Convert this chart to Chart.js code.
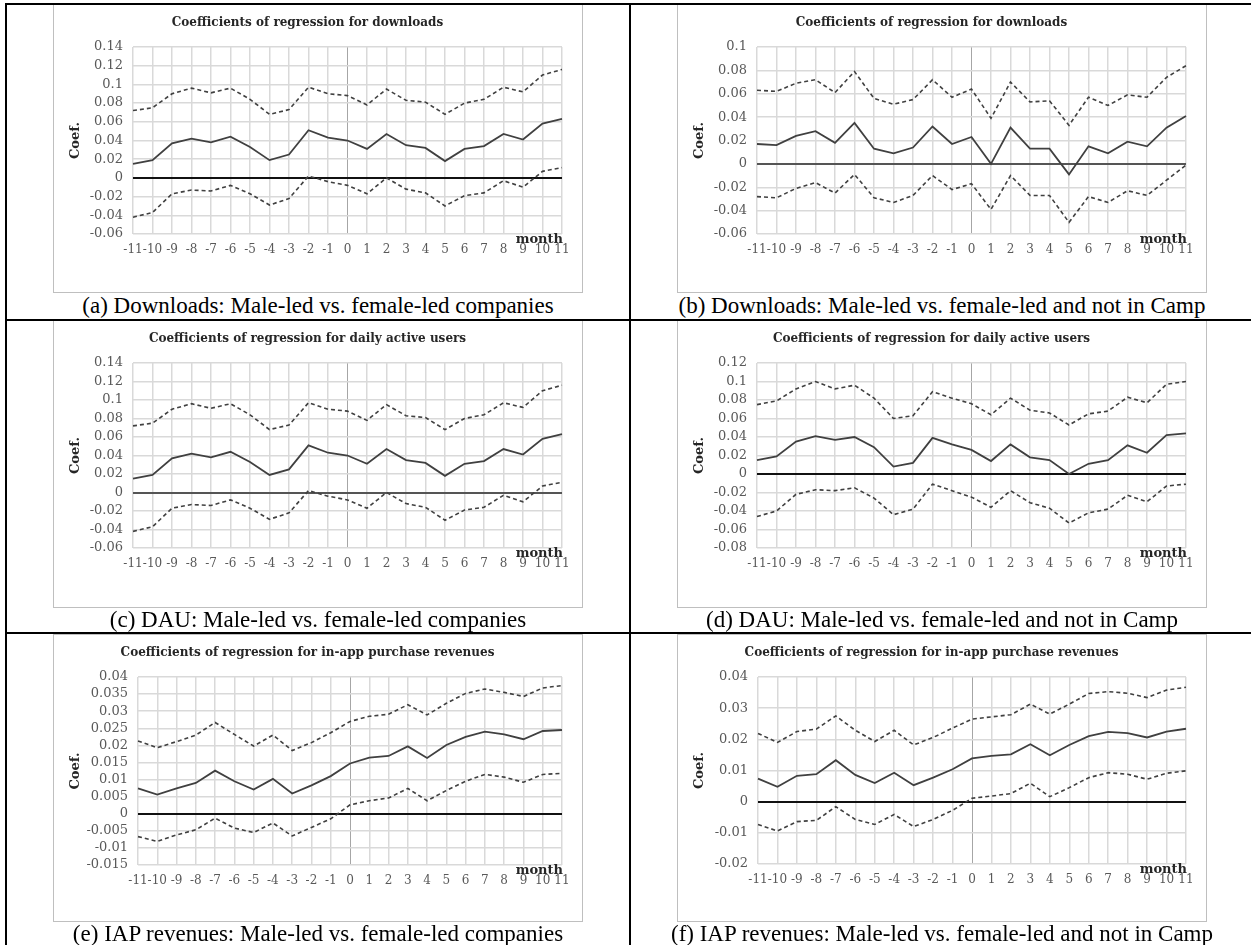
<!DOCTYPE html>
<html>
<head>
<meta charset="utf-8">
<script src="https://cdn.jsdelivr.net/npm/chart.js@4.4.1/dist/chart.umd.min.js"></script>
<style>
  body { margin: 0; background: #fff; }
  #page { position: relative; width: 1251px; height: 945px; overflow: hidden; background: #fff; }
  .rule { position: absolute; background: #000; z-index: 5; }
  .frame { position: absolute; width: 528px; border: 1px solid #bfbfbf; background: #fff; }
  .frame canvas { position: absolute; left: -1px; top: -1px; }
  .cap {
    position: absolute; width: 630px; text-align: center; white-space: nowrap;
    font-family: "Liberation Serif", "Times New Roman", serif; font-size: 23px;
    line-height: 26px; color: #000;
  }
</style>
</head>
<body>
<div id="page"></div>
<script>
const months = ['-11', '-10', '-9', '-8', '-7', '-6', '-5', '-4', '-3', '-2', '-1', '0',
  '1', '2', '3', '4', '5', '6', '7', '8', '9', '10', '11'];

// (a) downloads, male-led vs female-led
const dlCoef = [0.015, 0.019, 0.037, 0.042, 0.038, 0.044, 0.033, 0.019, 0.025, 0.051, 0.043, 0.040,
  0.031, 0.047, 0.035, 0.032, 0.018, 0.031, 0.034, 0.047, 0.041, 0.058, 0.063];
const dlUpper = [0.072, 0.075, 0.090, 0.096, 0.091, 0.096, 0.084, 0.068, 0.073, 0.097, 0.090, 0.088,
  0.078, 0.095, 0.083, 0.081, 0.068, 0.080, 0.084, 0.097, 0.092, 0.110, 0.116];
const dlLower = [-0.042, -0.037, -0.017, -0.013, -0.014, -0.008, -0.017, -0.029, -0.022, 0.002, -0.004, -0.008,
  -0.017, 0.000, -0.012, -0.016, -0.030, -0.019, -0.016, -0.003, -0.010, 0.007, 0.011];

// (b) downloads, not in Camp
const dlCampCoef = [0.017, 0.016, 0.024, 0.028, 0.018, 0.035, 0.013, 0.009, 0.014, 0.032, 0.017, 0.023,
  0.000, 0.031, 0.013, 0.013, -0.009, 0.015, 0.009, 0.019, 0.015, 0.031, 0.041];
const dlCampUpper = [0.063, 0.062, 0.069, 0.072, 0.061, 0.079, 0.056, 0.051, 0.055, 0.072, 0.057, 0.064,
  0.039, 0.070, 0.053, 0.054, 0.033, 0.057, 0.050, 0.059, 0.057, 0.074, 0.084];
const dlCampLower = [-0.028, -0.029, -0.021, -0.016, -0.025, -0.009, -0.029, -0.033, -0.027, -0.010, -0.022, -0.017,
  -0.039, -0.010, -0.027, -0.027, -0.050, -0.028, -0.033, -0.023, -0.027, -0.014, -0.001];

// (c) daily active users
const dauCoef = [0.015, 0.019, 0.037, 0.042, 0.038, 0.044, 0.033, 0.019, 0.025, 0.051, 0.043, 0.040,
  0.031, 0.047, 0.035, 0.032, 0.018, 0.031, 0.034, 0.047, 0.041, 0.058, 0.063];
const dauUpper = [0.072, 0.075, 0.090, 0.096, 0.091, 0.096, 0.084, 0.068, 0.073, 0.097, 0.090, 0.088,
  0.078, 0.095, 0.083, 0.081, 0.068, 0.080, 0.084, 0.097, 0.092, 0.110, 0.116];
const dauLower = [-0.042, -0.037, -0.017, -0.013, -0.014, -0.008, -0.017, -0.029, -0.022, 0.002, -0.004, -0.008,
  -0.017, 0.000, -0.012, -0.016, -0.030, -0.019, -0.016, -0.003, -0.010, 0.007, 0.011];

// (d) DAU, not in Camp
const dauCampCoef = [0.015, 0.019, 0.035, 0.041, 0.037, 0.040, 0.029, 0.008, 0.012, 0.039, 0.032, 0.026,
  0.014, 0.032, 0.018, 0.015, 0.000, 0.011, 0.015, 0.031, 0.023, 0.042, 0.044];
const dauCampUpper = [0.075, 0.079, 0.092, 0.100, 0.092, 0.096, 0.082, 0.060, 0.063, 0.089, 0.082, 0.076,
  0.064, 0.082, 0.069, 0.066, 0.053, 0.065, 0.068, 0.083, 0.077, 0.097, 0.100];
const dauCampLower = [-0.046, -0.040, -0.022, -0.017, -0.018, -0.015, -0.026, -0.044, -0.038, -0.011, -0.018, -0.025,
  -0.036, -0.018, -0.031, -0.037, -0.053, -0.042, -0.038, -0.023, -0.030, -0.013, -0.011];

// (e) in-app purchase revenues
const iapCoef = [0.0074, 0.0056, 0.0074, 0.0090, 0.0126, 0.0095, 0.0071, 0.0102, 0.0059, 0.0083, 0.0110, 0.0147,
  0.0164, 0.0169, 0.0197, 0.0163, 0.0201, 0.0225, 0.0240, 0.0232, 0.0218, 0.0242, 0.0245];
const iapUpper = [0.0213, 0.0193, 0.0211, 0.0230, 0.0267, 0.0232, 0.0198, 0.0230, 0.0185, 0.0208, 0.0237, 0.0270,
  0.0285, 0.0291, 0.0319, 0.0289, 0.0323, 0.0352, 0.0365, 0.0355, 0.0343, 0.0368, 0.0375];
const iapLower = [-0.0067, -0.0081, -0.0062, -0.0047, -0.0013, -0.0042, -0.0055, -0.0027, -0.0065, -0.0040, -0.0015, 0.0026,
  0.0038, 0.0046, 0.0074, 0.0038, 0.0068, 0.0095, 0.0115, 0.0107, 0.0092, 0.0115, 0.0118];

// (f) IAP revenues, not in Camp
const iapCampCoef = [0.0074, 0.0048, 0.0083, 0.0088, 0.0133, 0.0086, 0.0060, 0.0093, 0.0053, 0.0077, 0.0104, 0.0139,
  0.0147, 0.0152, 0.0184, 0.0149, 0.0182, 0.0210, 0.0224, 0.0220, 0.0206, 0.0225, 0.0234];
const iapCampUpper = [0.0219, 0.0190, 0.0225, 0.0233, 0.0275, 0.0229, 0.0193, 0.0229, 0.0182, 0.0206, 0.0236, 0.0265,
  0.0272, 0.0279, 0.0313, 0.0281, 0.0313, 0.0347, 0.0353, 0.0348, 0.0334, 0.0358, 0.0367];
const iapCampLower = [-0.0073, -0.0094, -0.0064, -0.0060, -0.0016, -0.0057, -0.0073, -0.0041, -0.0080, -0.0057, -0.0028, 0.0011,
  0.0018, 0.0026, 0.0059, 0.0016, 0.0045, 0.0077, 0.0093, 0.0088, 0.0072, 0.0091, 0.0099];

const titleDl = 'Coefficients of regression for downloads';
const titleDau = 'Coefficients of regression for daily active users';
const titleIap = 'Coefficients of regression for in-app purchase revenues';

const panels = [
  { series: [dlCoef, dlUpper, dlLower], title: titleDl, min: -0.06, max: 0.14, step: 0.02,
    caption: '(a) Downloads: Male-led vs. female-led companies',
    left: 53, top: 4, height: 289, yWidth: 80, xHeight: 59, capY: 293, zero: '#111' },
  { series: [dlCampCoef, dlCampUpper, dlCampLower], title: titleDl, min: -0.06, max: 0.1, step: 0.02,
    caption: '(b) Downloads: Male-led vs. female-led and not in Camp',
    left: 677, top: 4, height: 289, yWidth: 80, xHeight: 59, capY: 293, zero: '#555' },
  { series: [dauCoef, dauUpper, dauLower], title: titleDau, min: -0.06, max: 0.14, step: 0.02,
    caption: '(c) DAU: Male-led vs. female-led companies',
    left: 53, top: 320, height: 288, yWidth: 80, xHeight: 60, capY: 607, zero: '#555' },
  { series: [dauCampCoef, dauCampUpper, dauCampLower], title: titleDau, min: -0.08, max: 0.12, step: 0.02,
    caption: '(d) DAU: Male-led vs. female-led and not in Camp',
    left: 677, top: 320, height: 288, yWidth: 80, xHeight: 60, capY: 607, zero: '#111' },
  { series: [iapCoef, iapUpper, iapLower], title: titleIap, min: -0.015, max: 0.04, step: 0.005,
    caption: '(e) IAP revenues: Male-led vs. female-led companies',
    left: 53, top: 634, height: 288, yWidth: 85, xHeight: 57, capY: 921, zero: '#111' },
  { series: [iapCampCoef, iapCampUpper, iapCampLower], title: titleIap, min: -0.02, max: 0.04, step: 0.01,
    caption: '(f) IAP revenues: Male-led vs. female-led and not in Camp',
    left: 677, top: 634, height: 288, yWidth: 81, xHeight: 58, capY: 921, zero: '#111' }
];

const serif = 'DejaVu Serif';
const lineColor = '#404040';
const gridColor = '#d9d9d9';

// "month" sits just under the plot, right aligned
const monthLabel = {
  id: 'monthLabel',
  afterDraw(chart) {
    const { ctx, chartArea } = chart;
    ctx.save();
    ctx.font = 'bold 13px "' + serif + '"';
    ctx.fillStyle = '#262626';
    ctx.textAlign = 'right';
    ctx.textBaseline = 'middle';
    ctx.fillText('month', chartArea.right + 1, chartArea.bottom + 6);
    ctx.restore();
  }
};

const page = document.getElementById('page');

function isZero(v) {
  return Math.abs(v) < 1e-9;
}

panels.forEach(p => {
  const frame = document.createElement('div');
  frame.className = 'frame';
  frame.style.left = p.left + 'px';
  frame.style.top = p.top + 'px';
  frame.style.height = (p.height - 2) + 'px';
  const canvas = document.createElement('canvas');
  canvas.width = 530;
  canvas.height = p.height;
  canvas.style.width = '530px';
  canvas.style.height = p.height + 'px';
  frame.appendChild(canvas);
  page.appendChild(frame);

  const cap = document.createElement('div');
  cap.className = 'cap';
  cap.textContent = p.caption;
  cap.style.left = (p.left + 265 - 315) + 'px';
  cap.style.top = p.capY + 'px';
  page.appendChild(cap);

  new Chart(canvas, {
    type: 'line',
    data: {
      labels: months,
      datasets: [
        { data: p.series[0], borderColor: lineColor, borderWidth: 1.8 },
        { data: p.series[1], borderColor: lineColor, borderWidth: 1.6, borderDash: [4, 3] },
        { data: p.series[2], borderColor: lineColor, borderWidth: 1.6, borderDash: [4, 3] }
      ]
    },
    options: {
      responsive: false,
      animation: false,
      devicePixelRatio: 1,
      layout: { padding: { left: 0, right: 21, top: 0, bottom: 0 } },
      elements: {
        point: { radius: 0 },
        line: { tension: 0, fill: false }
      },
      plugins: {
        legend: { display: false },
        tooltip: { enabled: false },
        title: {
          display: true,
          text: p.title,
          color: '#262626',
          font: { family: serif, size: 12, weight: 'bold' },
          padding: { top: 12, bottom: 16.6 }
        }
      },
      scales: {
        x: {
          grid: {
            drawTicks: false,
            color: c => (c.index === 11 ? '#a6a6a6' : gridColor),
            lineWidth: c => (c.index === 11 ? 1 : 1.5)
          },
          border: { display: false },
          ticks: {
            autoSkip: false, maxRotation: 0, minRotation: 0, padding: 9,
            color: '#595959', font: { family: serif, size: 12 }
          },
          afterFit: s => { s.height = p.xHeight; }
        },
        y: {
          min: p.min,
          max: p.max,
          grid: {
            drawTicks: false,
            color: c => (isZero(c.tick.value) ? p.zero : gridColor),
            lineWidth: c => (isZero(c.tick.value) ? 2 : 1.5)
          },
          border: { display: false },
          ticks: {
            stepSize: p.step, autoSkip: false, padding: 10, color: '#595959',
            font: { family: serif, size: 13 },
            callback: v => String(+v.toFixed(4))
          },
          title: {
            display: true,
            text: 'Coef.',
            color: '#262626',
            font: { family: serif, size: 13, weight: 'bold' },
            padding: { top: 15, bottom: 0 }
          },
          afterFit: s => { s.width = p.yWidth; }
        }
      }
    },
    plugins: [monthLabel]
  });
});

// table rules
[
  [5, 3, 1246, 2],
  [5, 3, 2, 942],
  [629, 3, 2, 942],
  [5, 319, 1246, 2],
  [5, 632, 1246, 2]
].forEach(r => {
  const d = document.createElement('div');
  d.className = 'rule';
  d.style.left = r[0] + 'px';
  d.style.top = r[1] + 'px';
  d.style.width = r[2] + 'px';
  d.style.height = r[3] + 'px';
  page.appendChild(d);
});
</script>
</body>
</html>
